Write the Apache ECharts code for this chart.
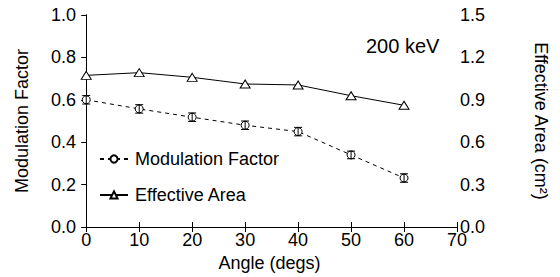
<!DOCTYPE html>
<html>
<head>
<meta charset="utf-8">
<script src="https://cdn.jsdelivr.net/npm/echarts@6/dist/echarts.min.js"></script>
<style>
  html, body { margin: 0; padding: 0; background: #fff; }
  #chart { width: 560px; height: 277px; }
</style>
</head>
<body>
<div id="chart"></div>
<script>
// angle scan at 200 keV
var angles = [0, 10, 20, 30, 40, 50, 60];
var modFactor = [0.60, 0.557, 0.518, 0.48, 0.45, 0.34, 0.231];
var modErr = [0.02, 0.02, 0.02, 0.02, 0.02, 0.018, 0.02];
var effArea = [1.073, 1.092, 1.059, 1.012, 1.005, 0.929, 0.861];
var xTicks = [0, 10, 20, 30, 40, 50, 60, 70];

var chart = echarts.init(document.getElementById('chart'), null, {renderer: 'svg'});

var font = 'Liberation Sans, Arial, sans-serif';
var ink = '#000';
var fs = 18;

var modData = angles.map(function (a, i) { return [a, modFactor[i]]; });
var areaData = angles.map(function (a, i) { return [a, effArea[i]]; });
var errData = angles.map(function (a, i) { return [a, modFactor[i] - modErr[i], modFactor[i] + modErr[i]]; });

var option = {
    animation: false,
    grid: {left: 82, right: 103, top: 15, bottom: 50},
    textStyle: {fontFamily: font, color: ink},
    legend: {
        orient: 'vertical',
        left: 94,
        top: 145,
        itemWidth: 28,
        itemHeight: 9,
        itemGap: 18,
        textStyle: {fontFamily: font, fontSize: fs, color: ink, padding: [0, 0, 0, 2]},
        data: ['Modulation Factor', 'Effective Area']
    },
    graphic: [{
        type: 'text',
        left: 366,
        top: 36,
        style: {text: '200 keV', font: '20px ' + font, fill: ink}
    }],
    xAxis: [{
        type: 'value',
        min: -0.8,
        max: 70,
        name: 'Angle (degs)',
        nameLocation: 'middle',
        nameGap: 26,
        nameTextStyle: {fontSize: fs, color: ink, fontFamily: font},
        axisLine: {lineStyle: {color: ink, width: 1}},
        axisTick: {inside: true, length: 5, customValues: xTicks, lineStyle: {color: ink}},
        axisLabel: {customValues: xTicks, fontSize: fs, color: ink, margin: 4, fontFamily: font},
        splitLine: {show: false}
    }, {
        type: 'value',
        position: 'top',
        min: -0.8,
        max: 70,
        axisLine: {lineStyle: {color: ink, width: 1}},
        axisTick: {inside: true, length: 5, customValues: xTicks, lineStyle: {color: ink}},
        axisLabel: {show: false},
        splitLine: {show: false}
    }],
    yAxis: [{
        type: 'value',
        min: 0,
        max: 1,
        interval: 0.2,
        name: 'Modulation Factor',
        nameLocation: 'middle',
        nameGap: 51,
        nameTextStyle: {fontSize: fs, color: ink, fontFamily: font},
        axisLine: {show: true, lineStyle: {color: ink, width: 1}},
        axisTick: {show: true, inside: false, length: 4, lineStyle: {color: ink}},
        axisLabel: {fontSize: fs, color: ink, margin: 6, fontFamily: font,
            formatter: function (v) { return v.toFixed(1); }},
        splitLine: {show: false}
    }, {
        type: 'value',
        position: 'right',
        min: 0,
        max: 1.5,
        interval: 0.3,
        name: 'Effective Area (cm²)',
        nameLocation: 'middle',
        nameRotate: -90,
        nameGap: 75,
        nameTextStyle: {fontSize: fs, color: ink, fontFamily: font},
        axisLine: {show: true, lineStyle: {color: ink, width: 1}},
        axisTick: {show: true, inside: true, length: 5, lineStyle: {color: ink}},
        axisLabel: {fontSize: fs, color: ink, margin: 3, fontFamily: font,
            formatter: function (v) { return v.toFixed(1); }},
        splitLine: {show: false}
    }],
    series: [{
        name: 'Modulation Factor',
        type: 'line',
        yAxisIndex: 0,
        data: modData,
        symbol: 'circle',
        symbolSize: 8,
        itemStyle: {color: '#fff', borderColor: ink, borderWidth: 1},
        lineStyle: {color: ink, width: 1, type: [4, 4]},
        z: 3
    }, {
        name: 'Effective Area',
        type: 'line',
        yAxisIndex: 1,
        data: areaData,
        symbol: 'triangle',
        symbolSize: [10, 8],
        itemStyle: {color: '#fff', borderColor: ink, borderWidth: 1},
        lineStyle: {color: ink, width: 1},
        z: 3
    }, {
        name: 'err',
        type: 'custom',
        yAxisIndex: 0,
        data: errData,
        z: 4,
        renderItem: function (params, api) {
            var x = api.value(0);
            var lo = api.coord([x, api.value(1)]);
            var hi = api.coord([x, api.value(2)]);
            var w = 4;
            var st = {stroke: ink, lineWidth: 1};
            return {
                type: 'group',
                children: [
                    {type: 'line', shape: {x1: lo[0], y1: lo[1], x2: hi[0], y2: hi[1]}, style: st},
                    {type: 'line', shape: {x1: lo[0] - w, y1: lo[1], x2: lo[0] + w, y2: lo[1]}, style: st},
                    {type: 'line', shape: {x1: hi[0] - w, y1: hi[1], x2: hi[0] + w, y2: hi[1]}, style: st}
                ]
            };
        }
    }]
};

chart.setOption(option);
</script>
</body>
</html>
